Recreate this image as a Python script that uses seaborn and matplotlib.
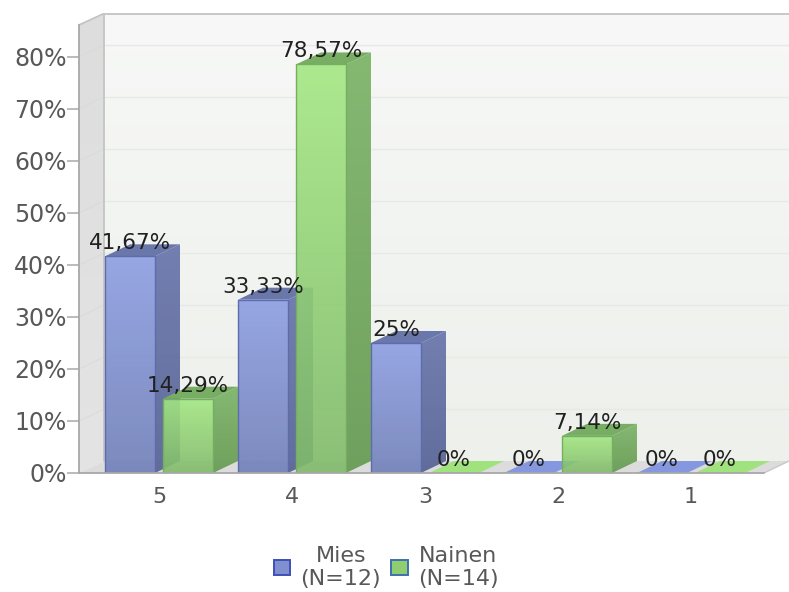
import numpy as np
import pandas as pd
import matplotlib
matplotlib.use("Agg")
import matplotlib.pyplot as plt
from matplotlib.colors import LinearSegmentedColormap
from matplotlib.patches import Polygon, Patch
import seaborn as sns

# Survey answers: share of respondents per score
scores = ["5", "4", "3", "2", "1"]
men_share = [41.67, 33.33, 25, 0, 0]
women_share = [14.29, 78.57, 0, 7.14, 0]
men_labels = ["41,67%", "33,33%", "25%", "0%", "0%"]
women_labels = ["14,29%", "78,57%", "0%", "7,14%", "0%"]
group_names = ["Mies\n(N=12)", "Nainen\n(N=14)"]
y_ticks = [0, 10, 20, 30, 40, 50, 60, 70, 80]

sns.set_theme(style="white")
plt.rcParams["font.family"] = ["DejaVu Sans"]

W, H = 789, 592
fig = plt.figure(figsize=(W / 100, H / 100), dpi=100, facecolor="white")
ax = fig.add_axes([79 / W, (H - 473) / H, (W - 79) / W, 460 / H])

df = pd.DataFrame({
    "score": scores * 2,
    "share": men_share + women_share,
    "group": [group_names[0]] * 5 + [group_names[1]] * 5,
})
sns.barplot(data=df, x="score", y="share", hue="group", order=scores,
            hue_order=group_names, width=0.872, gap=0.138, dodge=True,
            palette=["#8090d0", "#90d070"], legend=False, saturation=1, ax=ax)

x0, x1 = -80 / 133, 630 / 133
ymax = 460 / 5.2
ax.set_xlim(x0, x1)
ax.set_ylim(0, ymax)

# Depth of the pseudo-3D extrusion, in data units
dx, dy = 25 / 133, 12 / 5.2


def shade(top, bottom):
    return LinearSegmentedColormap.from_list("s", [top, bottom])


def gradient_fill(points, top, bottom, z, alpha=1.0):
    """Fill a polygon with a vertical gradient."""
    pts = np.array(points)
    poly = Polygon(pts, closed=True, facecolor="none", edgecolor="none",
                   transform=ax.transData)
    ax.add_patch(poly)
    im = ax.imshow(np.linspace(0, 1, 256).reshape(-1, 1), cmap=shade(top, bottom),
                   extent=(pts[:, 0].min(), pts[:, 0].max(), pts[:, 1].min(), pts[:, 1].max()),
                   origin="upper", aspect="auto", zorder=z, alpha=alpha,
                   interpolation="bilinear")
    im.set_clip_path(poly)


# Walls and floor
wall_x0 = x0 + dx
gradient_fill([(wall_x0, dy), (x1, dy), (x1, ymax), (wall_x0, ymax)], "#f7f8f7", "#edf0eb", 0.1)
gradient_fill([(x0, 0), (wall_x0, dy), (wall_x0, ymax), (x0, ymax - dy)], "#dddddd", "#e4e4e4", 0.2)
ax.add_patch(Polygon([(x0, 0), (x1 - dx, 0), (x1, dy), (wall_x0, dy)],
                     closed=True, facecolor="#dcdcdc", edgecolor="none", zorder=0.3))
for v in y_ticks[1:]:
    ax.plot([wall_x0, x1], [v + dy, v + dy], color="#e6eae6", lw=1.0, zorder=0.4)
    ax.plot([x0, wall_x0], [v, v + dy], color="#d9d9d9", lw=0.6, zorder=0.4)
ax.plot([wall_x0, wall_x0, x1], [dy, ymax - 0.1, ymax - 0.1], color="#c4c4c4", lw=1.3, zorder=0.5)
ax.plot([x0, wall_x0], [ymax - dy, ymax - 0.1], color="#c4c4c4", lw=1.3, zorder=0.5)
ax.plot([x1 - dx, x1], [0, dy], color="#c8c8c8", lw=1, zorder=0.5)

styles = {
    0: dict(front=("#8c9ee2", "#707fb9"), side=("#6c79ad", "#5a6698"), top="#6a77ab",
            flat="#8597de", edge="#5e6cae"),
    1: dict(front=("#a4e882", "#80ba6a"), side=("#7fb66b", "#699c56"), top="#78ad64",
            flat="#9fe27e", edge="#74ae60"),
}

# Extrude every bar drawn by seaborn, painting from left to right
rects = list(ax.containers[0]) + list(ax.containers[1])
entries = [(r, i // 5, (men_labels + women_labels)[i]) for i, r in enumerate(rects)]
entries.sort(key=lambda e: e[0].get_x())

for n, (rect, g, label) in enumerate(entries):
    st = styles[g]
    left, w, h = rect.get_x(), rect.get_width(), rect.get_height()
    right = left + w
    z = 2 + n
    rect.set_zorder(z + 0.1)
    if h > 0:
        gradient_fill([(right, 0), (right + dx, dy), (right + dx, h + dy), (right, h)],
                      st["side"][0], st["side"][1], z, alpha=0.95)
        ax.add_patch(Polygon([(left, h), (right, h), (right + dx, h + dy), (left + dx, h + dy)],
                             closed=True, facecolor=st["top"], edgecolor="none", zorder=z + 0.05))
        rect.set_facecolor("none")
        rect.set_edgecolor(st["edge"])
        rect.set_linewidth(1.0)
        gradient_fill([(left, 0), (right, 0), (right, h), (left, h)],
                      st["front"][0], st["front"][1], z + 0.08, alpha=0.9)
    else:
        rect.set_visible(False)
        ax.add_patch(Polygon([(left, 0), (right, 0), (right + dx, dy), (left + dx, dy)],
                             closed=True, facecolor=st["flat"], edgecolor="none", zorder=z))
    ax.text(left + w / 2, h + 13 / 5.2, label, ha="center", va="center",
            fontsize=15.5, color="#202020", zorder=50)

ax.set_xlim(x0, x1)
ax.set_ylim(0, ymax)
ax.set_xlabel("")
ax.set_ylabel("")
ax.set_yticks(y_ticks)
ax.set_yticklabels([f"{v}%" for v in y_ticks], fontsize=17, color="#585858")
ax.tick_params(axis="y", left=True, length=8.5, width=1.1, color="#a8a8a8", pad=0.5)
ax.tick_params(axis="x", bottom=False, labelsize=16, labelcolor="#585858", pad=4)
for side in ("top", "right"):
    ax.spines[side].set_visible(False)
ax.spines["left"].set_color("#a8a8a8")
ax.spines["left"].set_linewidth(1.3)
ax.spines["left"].set_bounds(0, ymax - dy)
ax.spines["left"].set_zorder(60)
ax.spines["bottom"].set_color("#a8a8a8")
ax.spines["bottom"].set_linewidth(1.3)
ax.spines["bottom"].set_bounds(x0, x1 - dx)
ax.spines["bottom"].set_zorder(60)

# Legend beneath the chart
handles = [Patch(facecolor="#7f8fcf", edgecolor="#3f4fb8", linewidth=1.4),
           Patch(facecolor="#8fce70", edgecolor="#3f6fb0", linewidth=1.4)]
leg = fig.legend(handles, group_names, loc="center", ncol=2, frameon=False,
                 bbox_to_anchor=(386 / W, (H - 567.5) / H), fontsize=16,
                 handlelength=0.75, handleheight=0.65, handletextpad=0.45,
                 columnspacing=0.45, labelspacing=0, labelcolor="#585858")
for t in leg.get_texts():
    t.set_multialignment("center")
    t.set_linespacing(1.15)

fig.savefig("out.png", dpi=100, facecolor="white")
